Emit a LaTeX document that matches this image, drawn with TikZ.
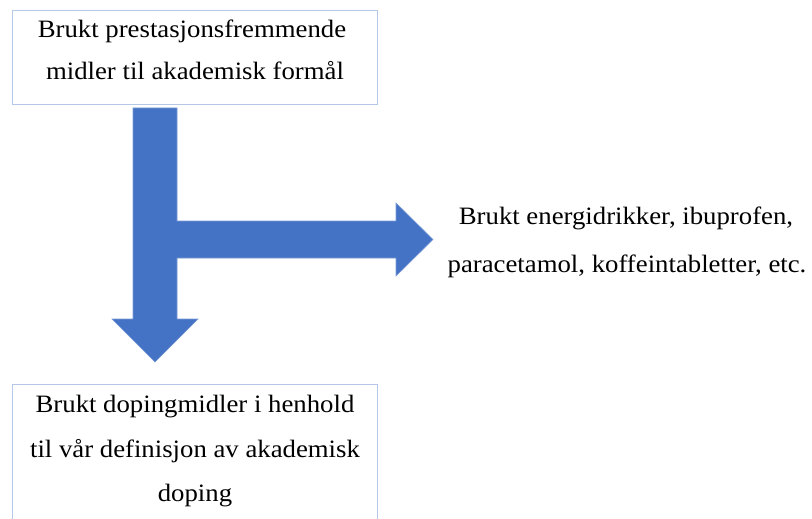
\documentclass[tikz,border=0pt]{standalone}
\usepackage{fontspec}
\setmainfont[FakeStretch=1.07]{Liberation Serif}
\definecolor{arrowblue}{HTML}{4472C4}
\definecolor{arrowedge}{HTML}{7A9BD6}
\definecolor{boxedge}{HTML}{B4C7E7}
\begin{document}
\begin{tikzpicture}[x=1pt,y=-1pt,
  txt/.style={anchor=base,inner sep=0pt,font=\fontsize{25}{28}\selectfont},
  boxstyle/.style={draw=boxedge,line width=1pt,fill=none}]
\path[use as bounding box] (0,0) rectangle (812,519);
\clip (0,0) rectangle (812,519);
% boxes
\draw[boxstyle] (12.7,11) rectangle (377.7,105);
\coordinate (topbox) at (195,105);
\draw[boxstyle] (12.7,384) rectangle (377.7,530);
\coordinate (botbox) at (195,384);
% texts
\node[txt] (t1) at (192,38) {Brukt prestasjonsfremmende};
\node[txt] (t2) at (195,80) {midler til akademisk formål};
\node[txt] (r1) at (626,224) {Brukt energidrikker, ibuprofen,};
\node[txt] (r2) at (627,272) {paracetamol, koffeintabletter, etc.};
\node[txt] (b1) at (195,412) {Brukt dopingmidler i henhold};
\node[txt] (b2) at (195,457) {til vår definisjon av akademisk};
\node[txt] (b3) at (195,501) {doping};
% arrow
\draw[fill=arrowblue,draw=arrowedge,line width=0.6pt,line join=miter]
  (133,108) -- (177,108) -- (177,221) -- (396,221) -- (396,203) -- (433,239.5)
  -- (396,276) -- (396,258) -- (177,258) -- (177,319) -- (198,319) -- (155,362)
  -- (112,319) -- (133,319) -- cycle;
\end{tikzpicture}
\end{document}
